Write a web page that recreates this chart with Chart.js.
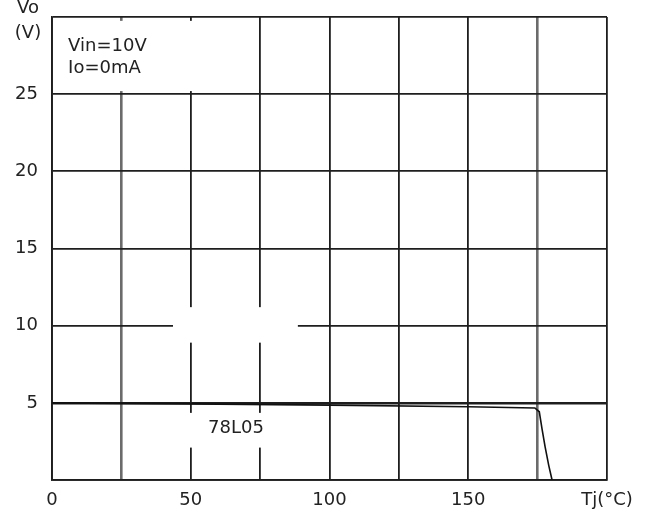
<!DOCTYPE html>
<html>
<head>
<meta charset="utf-8">
<script src="https://cdn.jsdelivr.net/npm/chart.js@4.4.0/dist/chart.umd.min.js"></script>
<style>
  html, body { margin: 0; padding: 0; background: #fff; }
  #wrap { width: 646px; height: 516px; }
</style>
</head>
<body>
<div id="wrap"><canvas id="voChart" width="646" height="516"></canvas></div>
<script>
// Vo vs Tj, 78L05 (Vin=10V, Io=0mA)
const tempC = [0, 50, 100, 150, 174, 175.6, 176.6, 177.7, 179, 180.2];
const voutV = [5.0, 4.93, 4.85, 4.75, 4.67, 4.42, 3.3, 2.15, 0.95, 0];

const xTicks = [0, 25, 50, 75, 100, 125, 150, 175, 200];
const xTickLabels = ['0', '', '50', '', '100', '', '150', '', 'Tj(°C)'];
const yTicks = [0, 5, 10, 15, 20, 25, 30];
const yTickLabels = ['', '5', '10', '15', '20', '25', ''];

// blank spots where the grid is broken in the original (data units)
const gridGaps = [
    { x0: 43.6, x1: 88.6, y0: 8.9, y1: 11.2 },
    { x0: 45, x1: 80, y0: 2.1, y1: 4.35 },
    { x0: 20, x1: 55, y0: 25.2, y1: 29.75 }
];

const FONT = "'DejaVu Sans', sans-serif";
const INK = '#222';

const gapPlugin = {
    id: 'gridGaps',
    beforeDatasetsDraw(chart) {
        const ctx = chart.ctx;
        const xs = chart.scales.x, ys = chart.scales.y;
        ctx.save();
        ctx.fillStyle = '#fff';
        gridGaps.forEach(g => {
            const l = xs.getPixelForValue(g.x0), r = xs.getPixelForValue(g.x1);
            const t = ys.getPixelForValue(g.y1), b = ys.getPixelForValue(g.y0);
            ctx.fillRect(l, t, r - l, b - t);
        });
        ctx.restore();
    }
};

const textPlugin = {
    id: 'notes',
    afterDraw(chart) {
        const ctx = chart.ctx;
        const xs = chart.scales.x, ys = chart.scales.y;
        const area = chart.chartArea;
        ctx.save();
        ctx.fillStyle = INK;
        ctx.font = '18px ' + FONT;
        ctx.textBaseline = 'middle';
        ctx.textAlign = 'left';
        ctx.fillText('Vin=10V', xs.getPixelForValue(5.8), ys.getPixelForValue(28.1));
        ctx.fillText('Io=0mA', xs.getPixelForValue(5.8), ys.getPixelForValue(26.7));
        ctx.textAlign = 'center';
        ctx.fillText('78L05', xs.getPixelForValue(66.3), ys.getPixelForValue(3.37));
        ctx.fillText('Vo', area.left - 24, area.top - 9);
        ctx.fillText('(V)', area.left - 24, area.top + 16);
        ctx.restore();
    }
};

const ctxVo = document.getElementById('voChart').getContext('2d');
const voChart = new Chart(ctxVo, {
    type: 'scatter',
    data: {
        datasets: [{
            label: '78L05',
            data: tempC.map((t, i) => ({ x: t, y: voutV[i] })),
            showLine: true,
            borderColor: '#111',
            borderWidth: 1.6,
            pointRadius: 0,
            tension: 0
        }]
    },
    options: {
        responsive: false,
        animation: false,
        devicePixelRatio: 1,
        layout: { padding: { top: 17, right: 39, left: 0, bottom: 0 } },
        plugins: {
            legend: { display: false },
            tooltip: { enabled: false }
        },
        scales: {
            x: {
                type: 'linear',
                min: 0,
                max: 200,
                afterBuildTicks: s => { s.ticks = xTicks.map(v => ({ value: v })); },
                afterFit: s => { s.height = 36; s.paddingLeft = 0; s.paddingRight = 0; },
                ticks: {
                    autoSkip: false,
                    maxRotation: 0,
                    padding: 10,
                    color: INK,
                    font: { family: FONT, size: 18 },
                    callback: v => xTickLabels[xTicks.indexOf(v)]
                },
                grid: {
                    drawTicks: false,
                    color: ctx => (ctx.tick && (ctx.tick.value === 25 || ctx.tick.value === 175)) ? '#6b6b6b' : '#1e1e1e',
                    lineWidth: ctx => (ctx.tick && (ctx.tick.value === 25 || ctx.tick.value === 175)) ? 2.6 : 1.8
                },
                border: { color: '#1e1e1e', width: 1.8 }
            },
            y: {
                type: 'linear',
                min: 0,
                max: 30,
                afterBuildTicks: s => { s.ticks = yTicks.map(v => ({ value: v })); },
                afterFit: s => { s.width = 52; s.paddingTop = 0; s.paddingBottom = 0; },
                ticks: {
                    autoSkip: false,
                    padding: 14,
                    color: INK,
                    font: { family: FONT, size: 18 },
                    callback: v => yTickLabels[yTicks.indexOf(v)]
                },
                grid: {
                    drawTicks: false,
                    color: '#1e1e1e',
                    lineWidth: ctx => (ctx.tick && ctx.tick.value === 5) ? 2.4 : 1.8
                },
                border: { color: '#1e1e1e', width: 1.8 }
            }
        }
    },
    plugins: [gapPlugin, textPlugin]
});
</script>
</body>
</html>
